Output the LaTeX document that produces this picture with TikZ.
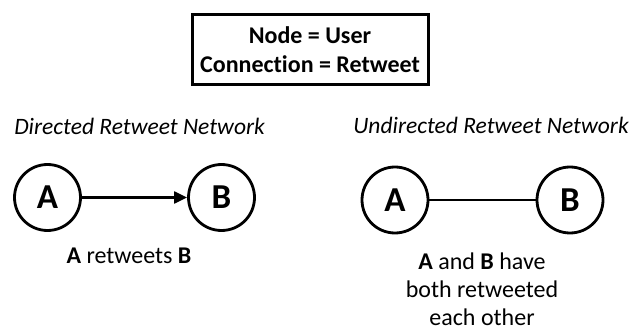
\documentclass[tikz,border=0pt]{standalone}
\usepackage{fontspec}
\setmainfont[Ligatures=NoCommon]{Carlito}
\usepackage{tikz}
\usetikzlibrary{arrows.meta}

\begin{document}
\begin{tikzpicture}[x=1pt,y=-1pt]
\def \radius {33pt}
\tikzset{user/.style={draw, circle, line width=2.8pt, minimum size=2*\radius, inner sep=0pt,
    font=\fontsize{35}{38}\selectfont\bfseries},
  title/.style={anchor=base, inner sep=0pt, font=\fontsize{23.5}{28}\selectfont\itshape},
  caption/.style={anchor=base, inner sep=0pt, align=center, font=\fontsize{24}{28}\selectfont}}
\useasboundingbox (0,0) rectangle (637,331);
\node[draw, line width=3pt, minimum width=236pt, minimum height=70pt, align=center,
  font=\fontsize{24}{29}\selectfont\bfseries] (legend) at (310,49.5)
  {Node = User\\Connection = Retweet};
\node[title] (dtitle) at (139.5,135) {Directed Retweet Network};
\node[title] (utitle) at (491,134) {Undirected Retweet Network};
\node[user] (a1) at (47.5,197.5) {A};
\node[user] (b1) at (221.5,197.5) {B};
\node[user] (a2) at (395,200) {A};
\node[user] (b2) at (570,200) {B};
\draw[line width=2.2pt, -{Triangle[length=13pt,width=12pt]}] (a1) -- (b1);
\draw[line width=2.2pt] (a2) -- (b2);
\node[caption] (dtext) at (129,263) {\textbf{A} retweets \textbf{B}};
\node[caption] (utext) at (482,325) {\textbf{A} and \textbf{B} have\\both retweeted\\each other};
\end{tikzpicture}
\end{document}
